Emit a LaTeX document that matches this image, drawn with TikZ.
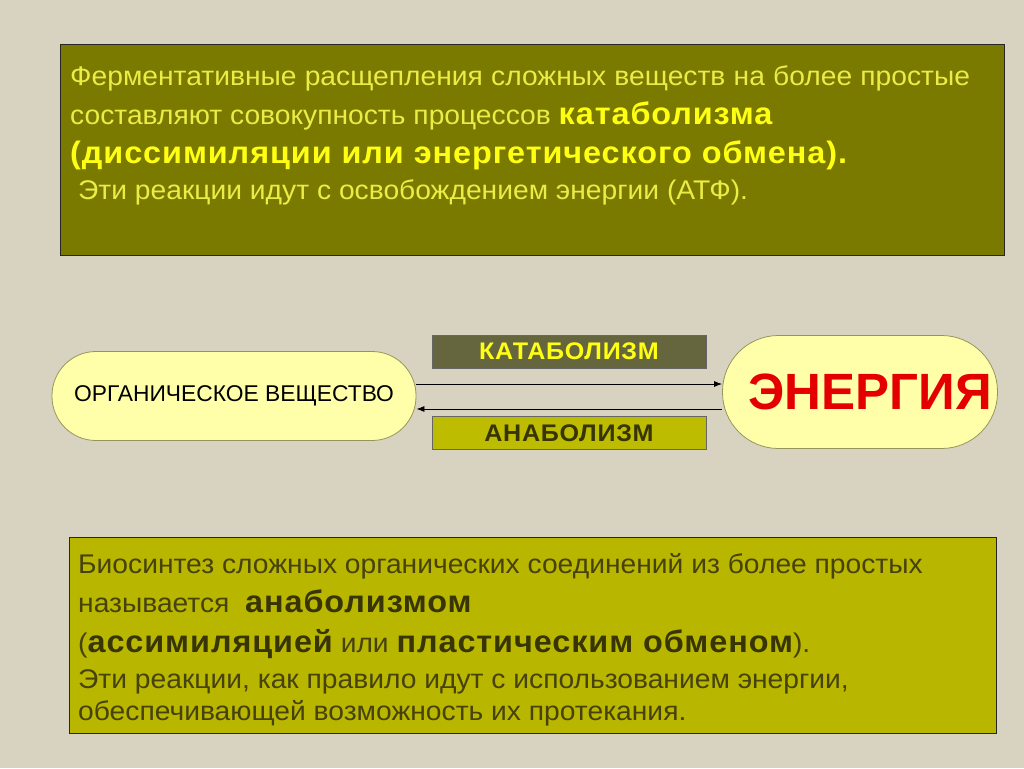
\documentclass[tikz,border=0pt]{standalone}
\usepackage{fontspec}
\setmainfont{Liberation Sans}[FakeStretch=1.045]
\newfontfamily\bfam{Liberation Sans}[FakeStretch=1.045,LetterSpace=3]
\newfontfamily\plainf{Liberation Sans}
\usetikzlibrary{arrows.meta}
\definecolor{bg}{RGB}{215,211,192}
\definecolor{topfill}{RGB}{122,122,0}
\definecolor{topreg}{RGB}{236,236,70}
\definecolor{topbold}{RGB}{255,255,20}
\definecolor{botfill}{RGB}{185,182,0}
\definecolor{botreg}{RGB}{70,66,10}
\definecolor{botbold}{RGB}{55,52,5}
\definecolor{katfill}{RGB}{102,102,62}
\definecolor{anafill}{RGB}{190,188,0}
\definecolor{pillfill}{RGB}{255,255,170}
\definecolor{pillline}{RGB}{150,150,90}
\definecolor{energy}{RGB}{228,0,0}
\newcommand{\regf}{\fontsize{27}{32}\selectfont}
\newcommand{\boldf}{\bfam\bfseries\fontsize{31}{36}\selectfont}
\tikzset{
  panel/.style={draw=black!85, line width=1pt},
  pill/.style={draw=pillline, fill=pillfill, rounded corners=44pt, line width=0.8pt},
  tag/.style={draw=black!60, line width=0.8pt, minimum width=274pt, minimum height=33pt, inner sep=0pt, font=\bfam\bfseries\fontsize{24}{28}\selectfont},
  txt/.style={anchor=base west, inner sep=0pt},
  flow/.style={draw=black, line width=0.8pt, -{Latex[length=8pt,width=6pt]}}
}
\begin{document}
\begin{tikzpicture}[x=1pt,y=-1pt]
\fill[bg] (0,0) rectangle (1024,768);
\useasboundingbox (0,0) rectangle (1024,768);
% top panel
\draw[panel, fill=topfill] (60,45) rectangle (1004,255);
\node[txt, text=topreg, font=\regf] (t1) at (70,85)
  {\makebox[900pt][s]{Ферментативные расщепления сложных веществ на более простые}};
\node[txt, text=topreg, font=\regf] (t2) at (70,124)
  {составляют совокупность процессов \textcolor{topbold}{\boldf катаболизма}};
\node[txt, text=topbold, font=\boldf] (t3) at (70,163)
  {(диссимиляции или энергетического обмена).};
\node[txt, text=topreg, font=\regf] (t4) at (78,199)
  {Эти реакции идут с освобождением энергии (АТФ).};
% middle
\node[pill, minimum width=364pt, minimum height=89pt, inner sep=0pt, font=\plainf\fontsize{22.8}{26}\selectfont] (org) at (234,396) {ОРГАНИЧЕСКОЕ ВЕЩЕСТВО};
\node[pill, rounded corners=56pt, minimum width=275pt, minimum height=113pt, inner sep=0pt, text=energy, font=\plainf\bfseries\fontsize{51}{60}\selectfont] (en) at (860,392) {\hspace*{20pt}ЭНЕРГИЯ};
\node[tag, fill=katfill, text=topbold] (kat) at (569,351.5) {КАТАБОЛИЗМ};
\node[tag, fill=anafill, text=botbold] (ana) at (569,433) {АНАБОЛИЗМ};
\coordinate (a1) at (416,384);
\coordinate (a2) at (722,384);
\coordinate (b1) at (722,409);
\coordinate (b2) at (414,409);
\draw[flow] (org.east |- a1) -- (en.west |- a2);
\draw[flow] (en.west |- b1) -- (org.east |- b2);
% bottom panel
\draw[panel, fill=botfill] (69,537) rectangle (996,733);
\node[txt, text=botreg, font=\regf] (b1t) at (78,573)
  {Биосинтез сложных органических соединений из более простых};
\node[txt, text=botreg, font=\regf] (b2t) at (78,612)
  {называется \ \textcolor{botbold}{\boldf анаболизмом}};
\node[txt, text=botreg, font=\regf] (b3t) at (78,652)
  {(\textcolor{botbold}{\boldf ассимиляцией} или \textcolor{botbold}{\boldf пластическим обменом}).};
\node[txt, text=botreg, font=\regf] (b4t) at (78,688)
  {Эти реакции, как правило идут с использованием энергии,};
\node[txt, text=botreg, font=\regf] (b5t) at (78,720)
  {обеспечивающей возможность их протекания.};
\end{tikzpicture}
\end{document}
